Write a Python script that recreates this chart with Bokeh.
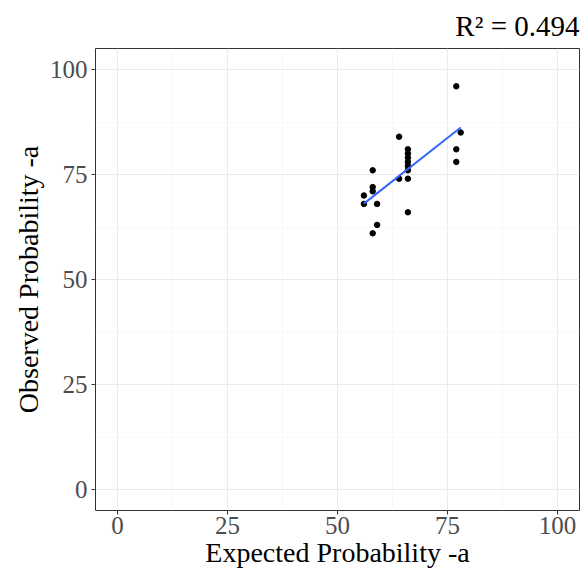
import numpy as np
from bokeh.plotting import figure
from bokeh.models import FixedTicker, Range1d, Title, ColumnDataSource
from bokeh.embed import file_html
from bokeh.resources import INLINE

expected = [77, 78, 77, 77, 64, 66, 66, 66, 66, 66, 66, 66, 66, 64, 58, 58, 58, 56, 56, 59, 59, 58]
observed = [96, 85, 81, 78, 84, 81, 80, 79, 78, 77, 76, 74, 66, 74, 76, 72, 71, 70, 68, 68, 63, 61]
r2_label = "R\u00b2 = 0.494"
ticks = [0, 25, 50, 75, 100]
minor = [12.5, 37.5, 62.5, 87.5]

FONT = "Liberation Serif"

p = figure(width=582, height=572, output_backend="svg", toolbar_location=None,
           x_range=Range1d(-5, 105), y_range=Range1d(-5, 105),
           min_border_left=95, min_border_right=3, min_border_top=47, min_border_bottom=62)

p.add_layout(Title(text=r2_label, align="right", text_font=FONT, text_font_size="29px",
                   text_font_style="normal", text_color="black", offset=0, standoff=14), "above")

for ax in (p.xaxis, p.yaxis):
    ax.ticker = FixedTicker(ticks=ticks, minor_ticks=minor)
    ax.axis_line_color = None
    ax.major_tick_line_color = "#333333"
    ax.major_tick_out = 4
    ax.major_tick_in = 0
    ax.minor_tick_line_color = None
    ax.major_label_text_font = FONT
    ax.major_label_text_font_size = "25px"
    ax.major_label_text_color = "#4D4D4D"
    ax.axis_label_text_font = FONT
    ax.axis_label_text_font_size = "28px"
    ax.axis_label_text_font_style = "normal"
    ax.axis_label_text_color = "black"

p.xaxis.axis_label = "Expected Probability -a"
p.yaxis.axis_label = "Observed Probability -a"
p.xaxis.major_label_standoff = 2
p.yaxis.major_label_standoff = 4
p.xaxis.axis_label_standoff = 0
p.yaxis.axis_label_standoff = 3

for g in (p.xgrid, p.ygrid):
    g.grid_line_color = "#EBEBEB"
    g.grid_line_width = 1
    g.minor_grid_line_color = "#F3F3F3"
    g.minor_grid_line_width = 0.6

p.outline_line_color = "#333333"
p.outline_line_width = 1
p.background_fill_color = "white"
p.border_fill_color = "white"

src = ColumnDataSource(dict(x=expected, y=observed))
p.scatter("x", "y", source=src, size=5.5, color="black")

x = np.array(expected, dtype=float)
y = np.array(observed, dtype=float)
b, a = np.polyfit(x, y, 1)
xs = [x.min(), x.max()]
p.line(xs, [a + b * v for v in xs], line_color="#3366FF", line_width=2)

open("out.html", "w").write(file_html(p, INLINE))
